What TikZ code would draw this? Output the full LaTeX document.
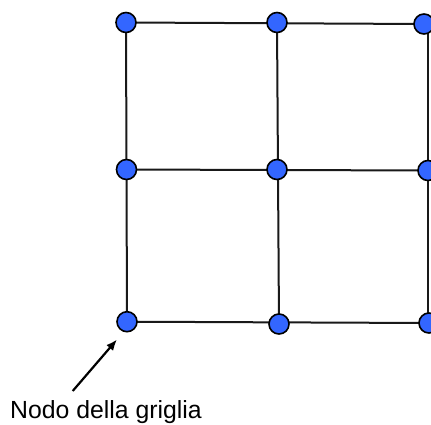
\documentclass[tikz,border=0pt]{standalone}
\usepackage{fontspec}
\setmainfont{Liberation Sans}
\usetikzlibrary{arrows.meta}
\definecolor{nodeblue}{RGB}{51,102,255}
\begin{document}
\begin{tikzpicture}[x=1pt,y=-1pt,
  gridnode/.style={circle,draw=black,line width=1.6pt,fill=nodeblue,minimum size=20pt,inner sep=0pt},
  gridline/.style={line width=2pt,black!90},
  pointer/.style={line width=2.2pt,-{Latex[length=11pt,width=9pt]}}]
\useasboundingbox (0,0) rectangle (431,424);
% coordinates of nodes (positions)
\coordinate (ptl) at (126,22.5);
\coordinate (ptm) at (277,22.5);
\coordinate (ptr) at (424,24);
\coordinate (pml) at (126.5,169.5);
\coordinate (pmm) at (277,169.5);
\coordinate (pmr) at (428,170.5);
\coordinate (pbl) at (127,321.7);
\coordinate (pbm) at (279,324);
\coordinate (pbr) at (429,323);
% lines
\draw[gridline] (ptl) -- (ptr);
\draw[gridline] (pml) -- (pmr);
\draw[gridline] (pbl) -- (pbr);
\draw[gridline] (ptl) -- (pbl);
\draw[gridline] (ptm) -- (pbm);
\draw[gridline] (428,24) -- (428,323);
% nodes
\foreach \n in {tl,tm,tr,ml,mm,mr,bl,bm,br}
  \node[gridnode] (\n) at (p\n) {};
% label and arrow
\node[anchor=base west,inner sep=0pt,font=\fontsize{24.8}{28}\selectfont] (lab) at (10,418) {Nodo della griglia};
\coordinate (a0) at (72.7,391);
\coordinate (a1) at (117,339.5);
\draw[pointer] (a0) -- (a1);
\end{tikzpicture}
\end{document}
